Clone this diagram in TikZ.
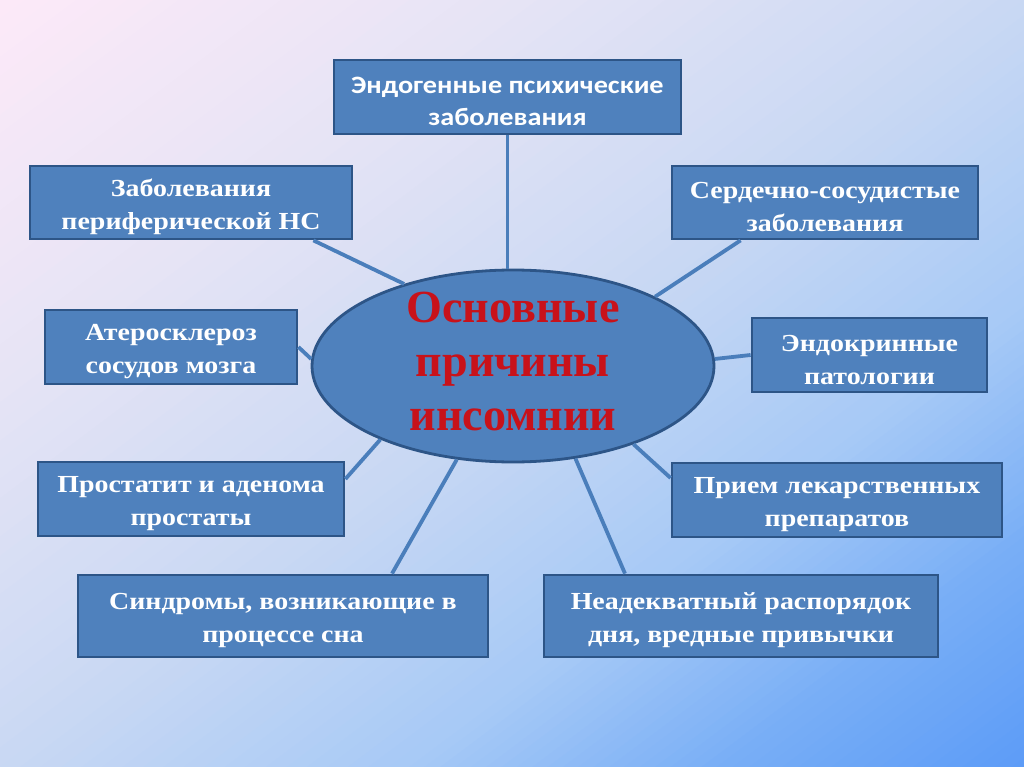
\documentclass[tikz,border=0pt]{standalone}
\usepackage{fontspec}
\setmainfont{Liberation Serif}[FakeStretch=1.14]
\newfontfamily\calibrifont{Carlito}[FakeStretch=1.13]
\usetikzlibrary{shapes.geometric,calc}

\definecolor{boxfill}{HTML}{4F81BD}
\definecolor{boxline}{HTML}{2D5587}
\definecolor{linkcol}{HTML}{4A7EBB}
\definecolor{titlered}{HTML}{C8121A}
% background stops, top-left to bottom-right
\definecolor{bga}{HTML}{FCE9F8}
\definecolor{bgb}{HTML}{E6E4F5}
\definecolor{bgc}{HTML}{C8D8F3}
\definecolor{bgd}{HTML}{A6C9F6}
\definecolor{bge}{HTML}{78AEF6}
\definecolor{bgf}{HTML}{5A9AF7}
\newcommand\tstrut{\rule{0pt}{26pt}}

\tikzset{
	cause/.style={draw=boxline, line width=2.8pt, fill=boxfill, text=white, align=center, inner sep=2pt,
		font=\bfseries\fontsize{24.5}{33}\selectfont},
	link/.style={draw=linkcol, line width=3.8pt}
}

\begin{document}
\begin{tikzpicture}[x=1pt,y=-1pt]
		\useasboundingbox (0,0) rectangle (1024,767);
		% background, in strips along the diagonal
		\begin{scope}[x=1024pt,y=-767pt]
			\clip (0,0) rectangle (1,1);
			\foreach \ca/\cb/\ta/\tb in {bga/bgb/0/0.25, bgb/bgc/0.25/0.5, bgc/bgd/0.5/0.7, bgd/bge/0.7/0.85, bge/bgf/0.85/1.01}{
				\foreach \k in {0,...,19}{
					\pgfmathsetmacro\cl{2*(\ta+\k*(\tb-\ta)/20)}
					\pgfmathsetmacro\ch{2*(\ta+(\k+1)*(\tb-\ta)/20)+0.004}
					\pgfmathsetmacro\pct{\k*5}
					\fill[\cb!\pct!\ca] (\cl+1,-1) -- (\ch+1,-1) -- (-1,\ch+1) -- (-1,\cl+1) -- cycle;
				}
			}
		\end{scope}
		% centre
		\node[ellipse, draw=boxline, line width=2.8pt, fill=boxfill, minimum width=402, minimum height=192, inner sep=-20pt, align=center,
			text=titlered, font=\bfseries\fontsize{46}{54}\selectfont, execute at end node={\rule[-10pt]{0pt}{0pt}}] (ell) at (513,366)
			{\scalebox{0.88}[1]{Основные}\\\scalebox{0.88}[1]{причины}\\\scalebox{0.88}[1]{инсомнии}};
		% causes
		\node[cause, font=\calibrifont\bfseries\fontsize{25}{32}\selectfont, minimum width=347, minimum height=74] (endo) at (507.5,97) {\tstrut Эндогенные психические\\заболевания};
		\node[cause, minimum width=322, minimum height=73] (periph) at (191,202.5) {\tstrut Заболевания\\периферической НС};
		\node[cause, minimum width=306, minimum height=73] (cardio) at (825,202.5) {\tstrut Сердечно-сосудистые\\заболевания};
		\node[cause, minimum width=252, minimum height=74] (athero) at (171,347) {\tstrut Атеросклероз\\сосудов мозга};
		\node[cause, minimum width=235, minimum height=74] (endocr) at (869.5,355) {\tstrut Эндокринные\\патологии};
		\node[cause, minimum width=306, minimum height=74] (prost) at (191,499) {\tstrut Простатит и аденома\\простаты};
		\node[cause, minimum width=330, minimum height=74] (drugs) at (837,500) {\tstrut Прием лекарственных\\препаратов};
		\node[cause, minimum width=410, minimum height=82] (sleep) at (283,616) {\tstrut Синдромы, возникающие в\\процессе сна};
		\node[cause, minimum width=394, minimum height=82] (habits) at (741,616) {\tstrut Неадекватный распорядок\\дня, вредные привычки};
		% links
		\draw[link] (endo.south) -- (endo.south |- ell.north);
		\draw[link] ($(periph.south east)+(-40,0)$) -- (ell.143);
		\draw[link] ($(cardio.south west)+(70,0)$) -- (ell.26);
		\draw[link] (athero.east) -- (ell.178);
		\draw[link] (endocr.west) -- (ell.2);
		\draw[link] ($(prost.east)+(0,-20)$) -- (ell.209);
		\draw[link] ($(drugs.west)+(0,-22)$) -- (ell.327);
		\draw[link] ($(sleep.north)+(109,0)$) -- (ell.239);
		\draw[link] ($(habits.north)+(-116,0)$) -- (ell.304);
	\end{tikzpicture}
\end{document}
